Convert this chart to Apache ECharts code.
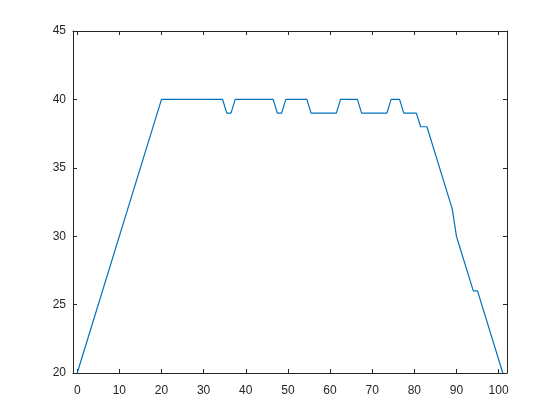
<!DOCTYPE html>
<html>
<head>
<meta charset="utf-8">
<script src="https://cdn.jsdelivr.net/npm/echarts@6/dist/echarts.min.js"></script>
<style>html,body{margin:0;padding:0;background:#fff;}#c{width:560px;height:420px;}</style>
</head>
<body>
<div id="c"></div>
<script>
// Vertex positions of the profile line (x) and their values (y)
var xValues = [0, 20, 34.5, 35.5, 36.5, 37.5, 46.5, 47.5, 48.5, 49.5, 54.5, 55.5, 61.5, 62.5, 66.5, 67.5, 73.5, 74.5, 76.5, 77.5, 80.5, 81.5, 83, 89, 90, 94, 95, 101];
var yValues = [20, 40, 40, 39, 39, 40, 40, 39, 39, 40, 40, 39, 39, 40, 40, 39, 39, 40, 40, 39, 39, 38, 38, 32, 30, 26, 26, 20];
var xTicks = [0, 10, 20, 30, 40, 50, 60, 70, 80, 90, 100];
var yTicks = [20, 25, 30, 35, 40, 45];

var axisColor = '#262626';
var font = 'Liberation Sans, Arial, Helvetica, sans-serif';
var pts = xValues.map(function (x, i) { return [x, yValues[i]]; });

var chart = echarts.init(document.getElementById('c'), null, {renderer: 'canvas'});
chart.setOption({
  animation: false,
  backgroundColor: '#ffffff',
  grid: {left: 73, right: 53, top: 31, bottom: 47, containLabel: false, outerBoundsMode: 'none'},
  xAxis: [{
    type: 'value', min: -1, max: 102, position: 'bottom',
    axisLine: {show: true, lineStyle: {color: axisColor, width: 1}},
    axisTick: {show: true, inside: true, length: 4, customValues: xTicks, lineStyle: {color: axisColor}},
    axisLabel: {show: true, customValues: xTicks, margin: 12, color: axisColor, fontSize: 12, fontFamily: font},
    splitLine: {show: false}
  }, {
    type: 'value', min: -1, max: 102, position: 'top',
    axisLine: {show: true, onZero: false, lineStyle: {color: axisColor, width: 1}},
    axisTick: {show: true, inside: true, length: 4, customValues: xTicks, lineStyle: {color: axisColor}},
    axisLabel: {show: false},
    splitLine: {show: false}
  }],
  yAxis: [{
    type: 'value', min: 20, max: 45, position: 'left',
    axisLine: {show: true, onZero: false, lineStyle: {color: axisColor, width: 1}},
    axisTick: {show: true, inside: true, length: 4, customValues: yTicks, lineStyle: {color: axisColor}},
    axisLabel: {show: true, customValues: yTicks, margin: 7, color: axisColor, fontSize: 12, fontFamily: font},
    splitLine: {show: false}
  }, {
    type: 'value', min: 20, max: 45, position: 'right',
    axisLine: {show: true, onZero: false, lineStyle: {color: axisColor, width: 1}},
    axisTick: {show: true, inside: true, length: 4, customValues: yTicks, lineStyle: {color: axisColor}},
    axisLabel: {show: false},
    splitLine: {show: false}
  }],
  series: [{
    type: 'line',
    xAxisIndex: 0, yAxisIndex: 0,
    data: pts,
    showSymbol: false,
    symbol: 'none',
    lineStyle: {color: '#0072BD', width: 1.2},
    clip: false
  }]
});
</script>
</body>
</html>
